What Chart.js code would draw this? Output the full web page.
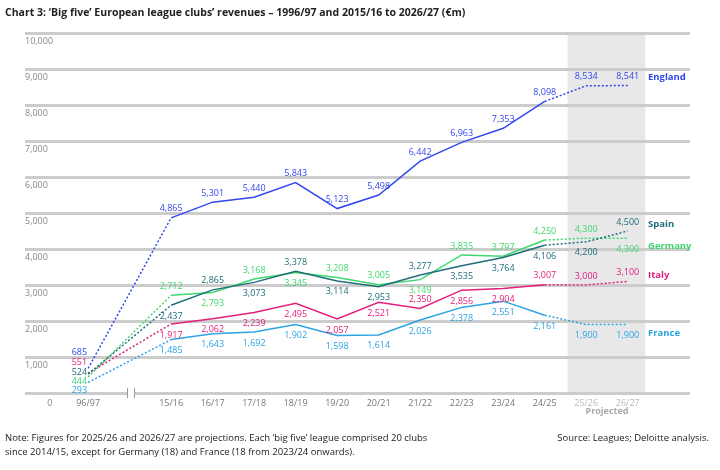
<!DOCTYPE html>
<html><head><meta charset="utf-8">
<script src="https://cdn.jsdelivr.net/npm/chart.js@4"></script>
<style>
body{margin:0;background:#fff;font-family:"Open Sans",sans-serif;}
#wrap{position:relative;width:720px;height:470px;}
.t{position:absolute;color:#222;font-size:10px;}
</style></head><body>
<div id="wrap">
<canvas id="c" width="720" height="470"></canvas>
<div class="t" style="left:5px;top:5px;font-weight:bold;font-size:10.5px;">Chart 3: ‘Big five’ European league clubs’ revenues – 1996/97 and 2015/16 to 2026/27 (€m)</div>
<div class="t" style="left:5px;top:431px;line-height:14px;font-size:9.5px;">Note: Figures for 2025/26 and 2026/27 are projections. Each ‘big five’ league comprised 20 clubs<br>since 2014/15, except for Germany (18) and France (18 from 2023/24 onwards).</div>
<div class="t" style="right:11px;top:431px;font-size:9.5px;">Source: Leagues; Deloitte analysis.</div>
</div>
<script>
const seasons=["96/97","15/16","16/17","17/18","18/19","19/20","20/21","21/22","22/23","23/24","24/25","25/26","26/27"];
const england=[685,4865,5301,5440,5843,5123,5498,6442,6963,7353,8098,8534,8541];
const spain=[524,2437,2865,3073,3378,3114,2953,3277,3535,3764,4106,4200,4500];
const germany=[444,2712,2793,3168,3345,3208,3005,3149,3835,3797,4250,4300,4300];
const italy=[551,1917,2062,2239,2495,2057,2521,2350,2856,2904,3007,3000,3100];
const france=[293,1485,1643,1692,1902,1598,1614,2026,2378,2551,2161,1900,1900];
const yTicks=[0,1000,2000,3000,4000,5000,6000,7000,8000,9000,10000];
const xPos=[1,3,4,5,6,7,8,9,10,11,12,13,14];

const series=[
 {name:"England",data:england,color:"#3347ee",side:[1,1,1,1,1,1,1,1,1,1,1,1,1],off0:-16,nameDy:-8},
 {name:"Spain",data:spain,color:"#1f6e78",side:[1,-1,1,-1,1,-1,-1,1,-1,-1,-1,-1,1],off0:-2,nameDy:-7},
 {name:"Germany",data:germany,color:"#3fd870",side:[1,1,-1,1,-1,1,1,-1,1,1,1,1,-1],off0:4,nameDy:8},
 {name:"Italy",data:italy,color:"#e2207c",side:[1,-1,-1,-1,-1,-1,-1,1,-1,-1,1,1,1],off0:-11,nameDy:-6},
 {name:"France",data:france,color:"#2ba3e2",side:[-1,-1,-1,-1,-1,-1,-1,-1,-1,-1,-1,-1,-1],off0:8,nameDy:9}
];
const fmt=v=>v.toLocaleString('en-US');

const plug={id:'p',
 beforeDatasetsDraw(ch){const {ctx,chartArea:a,scales:{x,y}}=ch;ctx.save();
  ctx.fillStyle="#e8e8e8";
  const l=x.getPixelForValue(12.55),r=x.getPixelForValue(14.42);ctx.fillRect(l,a.top,r-l,a.bottom-a.top);
  for(const v of yTicks){const p=Math.round(y.getPixelForValue(v));
   ctx.fillStyle="#cccccc";ctx.fillRect(25,p-1,665,3);
   if(v>0){ctx.fillStyle="#888";ctx.font="9px 'Open Sans'";ctx.textAlign="left";ctx.textBaseline="middle";ctx.fillText(fmt(v),25,p+8);}}
  const yy=Math.round(y.getPixelForValue(0));
  const b1=x.getPixelForValue(1.95),b2=x.getPixelForValue(2.12);
  ctx.fillStyle="#fff";ctx.fillRect(b1,yy-2,b2-b1,5);ctx.strokeStyle="#999";ctx.lineWidth=1;
  [b1,b2].forEach(p=>{ctx.beginPath();ctx.moveTo(p,yy-5);ctx.lineTo(p,yy+5);ctx.stroke();});
  ctx.textAlign="center";ctx.textBaseline="middle";
  ctx.fillStyle="#aaa";ctx.font="bold 9px 'Open Sans'";
  ctx.fillText("Projected",x.getPixelForValue(13.5),yy+18);
  ctx.font="9px 'Open Sans'";ctx.fillStyle="#888";ctx.fillText("0",x.getPixelForValue(0.08),yy+10);
  seasons.forEach((s,i)=>{ctx.fillStyle=i>=11?"#bbb":"#777";ctx.fillText(s,x.getPixelForValue(xPos[i]),yy+10);});
  ctx.restore();},
 afterDatasetsDraw(ch){const {ctx,scales:{x,y}}=ch;ctx.save();ctx.font="9px 'Open Sans'";ctx.textBaseline="middle";
  series.forEach((s,si)=>{ctx.fillStyle=s.color;
   s.data.forEach((v,i)=>{const px=x.getPixelForValue(xPos[i]),py=y.getPixelForValue(v);
    if(i===0){ctx.textAlign="right";ctx.fillText(fmt(v),px-1,py+s.off0);}
    else{ctx.textAlign="center";ctx.fillText(fmt(v),px,py+(s.side[i]>0?-9:11));}});
   ctx.textAlign="left";ctx.font="bold 9.5px 'Open Sans'";
   ctx.fillText(s.name,648,y.getPixelForValue(s.data[12])+s.nameDy);ctx.font="9px 'Open Sans'";});
  ctx.restore();}
};

new Chart(document.getElementById('c'),{type:'line',
 data:{datasets:series.map(s=>({data:s.data.map((v,i)=>({x:xPos[i],y:v})),borderColor:s.color,borderWidth:1.5,pointRadius:0,tension:0,
  segment:{borderDash:c=>(c.p0DataIndex===0||c.p0DataIndex>=10)?[2,2]:undefined}}))},
 plugins:[plug],
 options:{responsive:false,animation:false,
  layout:{padding:{top:33,left:25,right:30,bottom:77}},
  plugins:{legend:{display:false},tooltip:{enabled:false}},
  scales:{
   x:{type:'linear',display:false,min:-0.52,max:15.5},
   y:{min:0,max:10000,display:false}
  }}});
</script></body></html>
